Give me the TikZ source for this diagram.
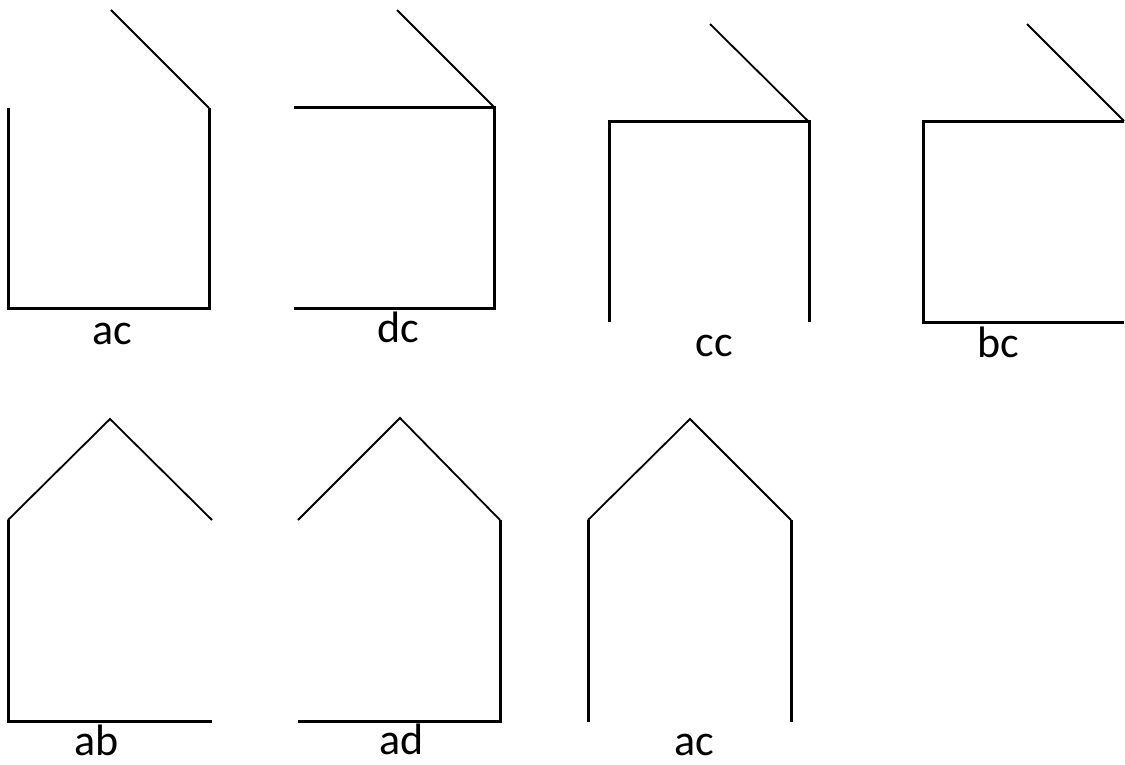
\documentclass[tikz,border=0pt]{standalone}
\usepackage{fontspec}
\setmainfont{Carlito}
\usetikzlibrary{positioning}

\begin{document}
\begin{tikzpicture}[x=1pt, y=-1pt,
  wall/.style={line width=3pt},
  roof/.style={line width=1.8pt},
  lbl/.style={anchor=base, inner sep=0pt, text depth=0pt, font=\fontsize{44}{44}\selectfont}]
  \useasboundingbox (0,0) rectangle (1125,765);
  % top row
  \draw[wall] (8,108) -- (8,308) -- (209,308) -- (209,108);
  \draw[roof] (111,10) -- (209,108);
  \node[lbl] (l1) at (112,344) {ac};
  \draw[wall] (294,108) -- (494,108) -- (494,308) -- (294,308);
  \draw[roof] (397,10) -- (494,107);
  \node[lbl] (l2) at (398,342) {dc};
  \draw[wall] (609,322) -- (609,122) -- (809,122) -- (809,322);
  \draw[roof] (710,24) -- (809,122);
  \node[lbl] (l3) at (714,356) {cc};
  \draw[wall] (1124,122) -- (923,122) -- (923,322) -- (1124,322);
  \draw[roof] (1027,24) -- (1124,121);
  \node[lbl] (l4) at (998,357) {bc};
  % bottom row
  \draw[roof] (8,520) -- (110,419) -- (212,520);
  \draw[wall] (8,520) -- (8,721) -- (212,721);
  \node[lbl] (l5) at (97,755) {ab};
  \draw[roof] (298,520) -- (400,418) -- (500,520);
  \draw[wall] (500,520) -- (500,721) -- (298,721);
  \node[lbl] (l6) at (402,754) {ad};
  \draw[roof] (588,520) -- (690,419) -- (791,520);
  \draw[wall] (588,520) -- (588,722);
  \draw[wall] (791,520) -- (791,722);
  \node[lbl] (l7) at (694,755) {ac};
\end{tikzpicture}
\end{document}
